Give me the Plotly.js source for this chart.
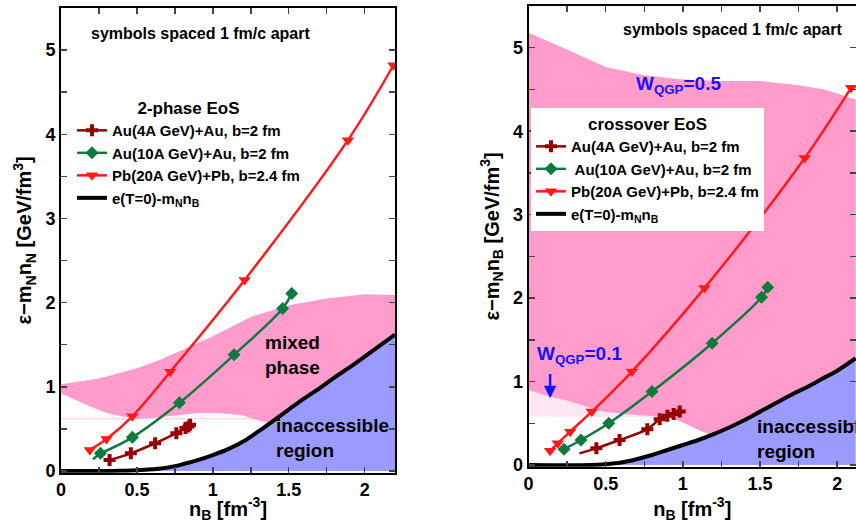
<!DOCTYPE html>
<html>
<head>
<meta charset="utf-8">
<script src="https://cdn.plot.ly/plotly-3.0.1.min.js"></script>
<style>html,body{margin:0;padding:0;background:#fff}#chart{width:856px;height:523px}</style>
</head>
<body>
<div id="chart"></div>
<script>
// ---------- LEFT PANEL: 2-phase EoS ----------
const pbX_L = [0.19, 0.30, 0.47, 0.72, 1.21, 1.89, 2.19];
const pbY_L = [0.25, 0.38, 0.65, 1.18, 2.27, 3.93, 4.82];
const au10X_L = [0.26, 0.47, 0.78, 1.14, 1.46, 1.52];
const au10Y_L = [0.21, 0.40, 0.81, 1.38, 1.93, 2.11];
const au10Start_L = [0.21, 0.14];
const au4X_L = [0.32, 0.46, 0.62, 0.76, 0.82, 0.84, 0.85];
const au4Y_L = [0.13, 0.21, 0.33, 0.45, 0.51, 0.53, 0.55];
const tzX_L = [0, 0.3, 0.4, 0.5, 0.6, 0.7, 0.8, 0.9, 1.0, 1.1, 1.2, 1.3, 1.4, 1.5, 1.6, 1.7, 1.8, 1.9, 2.0, 2.1, 2.2];
const tzY_L = [0, 0, 0.003, 0.008, 0.02, 0.04, 0.08, 0.13, 0.19, 0.26, 0.35, 0.47, 0.6, 0.73, 0.86, 0.98, 1.11, 1.23, 1.36, 1.49, 1.62];
const mixUpX_L = [0, 0.25, 0.5, 0.65, 0.75, 1.0, 1.25, 1.5, 1.75, 2.0, 2.2];
const mixUpY_L = [1.03, 1.1, 1.22, 1.32, 1.4, 1.6, 1.83, 1.97, 2.05, 2.1, 2.09];
const mixLoX_L = [0, 0.1, 0.2, 0.3, 0.4, 0.5, 0.6, 0.75, 0.9, 1.0, 1.1, 1.2, 1.3, 1.38];
const mixLoY_L = [0.92, 0.84, 0.76, 0.69, 0.65, 0.62, 0.63, 0.66, 0.69, 0.69, 0.68, 0.66, 0.6, 0.57];
const faintX_L = [0, 1.38];
const faintY_L = [0.62, 0.62];

// ---------- RIGHT PANEL: crossover EoS ----------
const pbX_R = [0.14, 0.19, 0.27, 0.41, 0.67, 1.14, 1.79, 2.09];
const pbY_R = [0.17, 0.26, 0.40, 0.64, 1.12, 2.12, 3.68, 4.52];
const au10X_R = [0.23, 0.34, 0.52, 0.80, 1.19, 1.51, 1.55];
const au10Y_R = [0.19, 0.30, 0.50, 0.88, 1.46, 2.01, 2.13];
const au4X_R = [0.44, 0.59, 0.77, 0.85, 0.90, 0.94, 0.98];
const au4Y_R = [0.20, 0.30, 0.43, 0.55, 0.59, 0.61, 0.64];
const au4Start_R = [0.33, 0.14];
const tzX_R = [0, 0.4, 0.5, 0.6, 0.7, 0.8, 0.9, 1.0, 1.1, 1.2, 1.3, 1.4, 1.5, 1.6, 1.7, 1.8, 1.9, 2.0, 2.12];
const tzY_R = [0, 0, 0.01, 0.03, 0.07, 0.12, 0.18, 0.24, 0.3, 0.37, 0.45, 0.54, 0.64, 0.74, 0.84, 0.93, 1.03, 1.13, 1.28];
const wUpX_R = [0, 0.25, 0.5, 0.75, 1.0, 1.25, 1.5, 1.75, 1.92, 2.05, 2.12];
const wUpY_R = [5.18, 4.98, 4.77, 4.67, 4.62, 4.6, 4.6, 4.55, 4.5, 4.42, 4.38];
const wLoX_R = [0, 0.1, 0.27, 0.48, 0.7, 0.92, 1.0, 1.09, 1.18];
const wLoY_R = [0.9, 0.84, 0.76, 0.64, 0.6, 0.57, 0.51, 0.43, 0.36];
const stripeLoX_R = [0.92, 0];
const stripeLoY_R = [0.57, 0.58];

const legendNames = ['Au(4A GeV)+Au, b=2 fm', 'Au(10A GeV)+Au, b=2 fm', 'Pb(20A GeV)+Pb, b=2.4 fm', 'e(T=0)-m<sub>N</sub>n<sub>B</sub>'];
const legendNamesR = ['Au(4A GeV)+Au, b=2 fm', ' Au(10A GeV)+Au, b=2 fm', 'Pb(20A GeV)+Pb, b=2.4 fm', 'e(T=0)-m<sub>N</sub>n<sub>B</sub>'];

const PINK = '#ff9ccc', BLUE = '#9b9bff', RED = '#ff1a1a', GREEN = '#0f7a3f', DRED = '#990000';
const FONT = 'Liberation Sans, Arial, Helvetica, sans-serif';

function rev(a){ return a.slice().reverse(); }

// left mixed-phase polygon
const lowTailX_L = tzX_L.filter(x => x > mixLoX_L[mixLoX_L.length-1]);
const lowTailY_L = tzY_L.filter((y,i) => tzX_L[i] > mixLoX_L[mixLoX_L.length-1]);
const lowX_L = mixLoX_L.concat(lowTailX_L);
const lowY_L = mixLoY_L.concat(lowTailY_L);
const mixPolyX_L = mixUpX_L.concat(rev(lowX_L));
const mixPolyY_L = mixUpY_L.concat(rev(lowY_L));

// right crossover polygon
const tzTailX_R = tzX_R.filter(x => x > wLoX_R[wLoX_R.length-1]);
const tzTailY_R = tzY_R.filter((y,i) => tzX_R[i] > wLoX_R[wLoX_R.length-1]);
const wPolyX_R = wUpX_R.concat(rev(tzTailX_R), rev(wLoX_R));
const wPolyY_R = wUpY_R.concat(rev(tzTailY_R), rev(wLoY_R));
const stripeTopX = wLoX_R.filter(x => x <= stripeLoX_R[0]);
const stripeTopY = wLoY_R.filter((y,i) => wLoX_R[i] <= stripeLoX_R[0]);
const stripeX_R = stripeTopX.concat(stripeLoX_R);
const stripeY_R = stripeTopY.concat(stripeLoY_R);

function panel(ax, ay, lg, d, names){
  const tr = [];
  tr.push({x: d.polyX, y: d.polyY, xaxis: ax, yaxis: ay, mode: 'lines', fill: 'toself', fillcolor: PINK, line: {width: 0}, showlegend: false, hoverinfo: 'skip'});
  if (d.extraX) tr.push({x: d.extraX, y: d.extraY, xaxis: ax, yaxis: ay, mode: 'lines', fill: d.extraFill, fillcolor: 'rgba(255,156,204,0.25)', line: {width: d.extraW, color: 'rgba(255,156,204,0.6)'}, showlegend: false, hoverinfo: 'skip'});
  tr.push({x: d.tzX, y: d.tzY, xaxis: ax, yaxis: ay, mode: 'lines', fill: 'tozeroy', fillcolor: BLUE, line: {width: 0, shape: 'spline'}, showlegend: false, hoverinfo: 'skip'});
  tr.push({x: d.tzX, y: d.tzY, xaxis: ax, yaxis: ay, mode: 'lines', line: {color: '#000', width: 4, shape: 'spline'}, name: names[3], legend: lg, legendrank: 4});
  if (d.au4Start) tr.push({x: [d.au4Start[0], d.au4X[0]], y: [d.au4Start[1], d.au4Y[0]], xaxis: ax, yaxis: ay, mode: 'lines', line: {color: DRED, width: 2.5}, showlegend: false});
  tr.push({x: d.au4X, y: d.au4Y, xaxis: ax, yaxis: ay, mode: 'lines+markers', line: {color: DRED, width: 2.5, shape: 'spline'}, marker: {symbol: 'cross', size: 10, color: DRED}, name: names[0], legend: lg, legendrank: 1});
  if (d.au10Start) tr.push({x: [d.au10Start[0], d.au10X[0]], y: [d.au10Start[1], d.au10Y[0]], xaxis: ax, yaxis: ay, mode: 'lines', line: {color: GREEN, width: 2.5}, showlegend: false});
  tr.push({x: d.au10X, y: d.au10Y, xaxis: ax, yaxis: ay, mode: 'lines+markers', line: {color: GREEN, width: 2.5, shape: 'spline'}, marker: {symbol: 'diamond', size: 10, color: GREEN}, name: names[1], legend: lg, legendrank: 2});
  tr.push({x: d.pbX, y: d.pbY, xaxis: ax, yaxis: ay, mode: 'lines+markers', line: {color: RED, width: 2.5, shape: 'spline'}, marker: {symbol: 'triangle-down', size: 11, color: RED}, name: names[2], legend: lg, legendrank: 3});
  return tr;
}

const data = [].concat(
  panel('x', 'y', 'legend', {polyX: mixPolyX_L, polyY: mixPolyY_L, extraX: faintX_L, extraY: faintY_L, extraFill: 'none', extraW: 1,
    tzX: tzX_L, tzY: tzY_L, au4X: au4X_L, au4Y: au4Y_L, au10X: au10X_L, au10Y: au10Y_L, au10Start: au10Start_L, pbX: pbX_L, pbY: pbY_L}, legendNames),
  panel('x2', 'y2', 'legend2', {polyX: wPolyX_R, polyY: wPolyY_R, extraX: stripeX_R, extraY: stripeY_R, extraFill: 'toself', extraW: 0,
    tzX: tzX_R, tzY: tzY_R, au4X: au4X_R, au4Y: au4Y_R, au4Start: au4Start_R, au10X: au10X_R, au10Y: au10Y_R, pbX: pbX_R, pbY: pbY_R}, legendNamesR)
);

const W = 856, H = 523;
function xdom(a, b){ return [a / W, b / W]; }
function ydom(bottomPx, topPx){ return [(H - bottomPx) / H, (H - topPx) / H]; }

const tickFont = {family: FONT, size: 18, color: '#000', weight: 'bold'};
const titleFont = {family: FONT, size: 20, color: '#000', weight: 'bold'};
function xax(dom, range, anchor){
  return {domain: dom, range: range, anchor: anchor, tick0: 0, dtick: 0.5, ticks: 'inside', ticklen: 6, tickwidth: 1.5,
    minor: {dtick: 0.25, ticks: 'inside', ticklen: 6, tickwidth: 1.5, showgrid: false},
    showline: true, linewidth: 2, linecolor: '#000', mirror: 'ticks', showgrid: false, zeroline: false,
    tickfont: tickFont, title: {text: 'n<sub>B</sub> [fm<sup>-3</sup>]', font: titleFont, standoff: 4}};
}
function yax(dom, anchor, title){
  return {domain: dom, range: [-0.02, 5.5], anchor: anchor, tick0: 0, dtick: 1, ticks: 'inside', ticklen: 6, tickwidth: 1.5,
    minor: {dtick: 0.5, ticks: 'inside', ticklen: 6, tickwidth: 1.5, showgrid: false},
    showline: true, linewidth: 2, linecolor: '#000', mirror: 'ticks', showgrid: false, zeroline: false,
    tickfont: tickFont, title: {text: title, font: titleFont, standoff: 8}};
}

const annFont = (s, c) => ({family: FONT, size: s, color: c || '#000', weight: 'bold'});
const legFont = {family: FONT, size: 15, color: '#000', weight: 'bold'};
const legTitleFont = {family: FONT, size: 17, color: '#000', weight: 'bold'};
const layout = {
  width: W, height: H,
  margin: {l: 0, r: 0, t: 0, b: 0},
  paper_bgcolor: '#fff', plot_bgcolor: '#fff',
  font: {family: FONT},
  xaxis: xax(xdom(61, 395), [0, 2.2], 'y'),
  yaxis: yax(ydom(472.7, 8), 'x', 'ε−m<sub>N</sub>n<sub>N</sub> [GeV/fm<sup>3</sup>]'),
  xaxis2: xax(xdom(528.5, 856), [0, 2.122], 'y2'),
  yaxis2: yax(ydom(466.7, 6), 'x2', 'ε−m<sub>N</sub>n<sub>B</sub> [GeV/fm<sup>3</sup>]'),
  legend: {x: 72 / W, y: (H - 92) / H, xanchor: 'left', yanchor: 'top', bgcolor: 'rgba(255,255,255,0)', borderwidth: 0,
    font: legFont, traceorder: 'normal', title: {text: '2-phase EoS', side: 'top center', font: legTitleFont}},
  legend2: {x: 531 / W, y: (H - 108) / H, xanchor: 'left', yanchor: 'top', bgcolor: '#fff', borderwidth: 0,
    font: legFont, traceorder: 'normal', title: {text: 'crossover EoS', side: 'top center', font: legTitleFont}},
  annotations: [
    {xref: 'x', yref: 'y', x: 0.92, y: 5.2, text: 'symbols spaced 1 fm/c apart', showarrow: false, font: annFont(16)},
    {xref: 'x', yref: 'y', x: 1.33, y: 1.38, text: 'mixed<br>phase', showarrow: false, xanchor: 'left', align: 'left', font: annFont(19)},
    {xref: 'x', yref: 'y', x: 1.40, y: 0.39, text: 'inaccessible<br>region', showarrow: false, xanchor: 'left', align: 'left', font: annFont(19)},
    {xref: 'x2', yref: 'y2', x: 1.32, y: 5.22, text: 'symbols spaced 1 fm/c apart', showarrow: false, font: annFont(16)},
    {xref: 'x2', yref: 'y2', x: 0.975, y: 4.55, text: 'W<sub>QGP</sub>=0.5', showarrow: false, font: annFont(19, '#1414ff')},
    {xref: 'x2', yref: 'y2', x: 0.33, y: 1.32, text: 'W<sub>QGP</sub>=0.1', showarrow: false, font: annFont(19, '#1414ff')},
    {xref: 'x2', yref: 'y2', x: 0.14, y: 0.80, ax: 0.14, ay: 1.11, axref: 'x2', ayref: 'y2', text: '', showarrow: true, arrowhead: 2, arrowsize: 1, arrowwidth: 2.5, arrowcolor: '#1414ff'},
    {xref: 'x2', yref: 'y2', x: 1.468, y: 0.31, text: 'inaccessible<br>region', showarrow: false, xanchor: 'left', align: 'left', font: annFont(19)}
  ]
};

Plotly.newPlot('chart', data, layout, {staticPlot: true, displayModeBar: false});
</script>
</body>
</html>
